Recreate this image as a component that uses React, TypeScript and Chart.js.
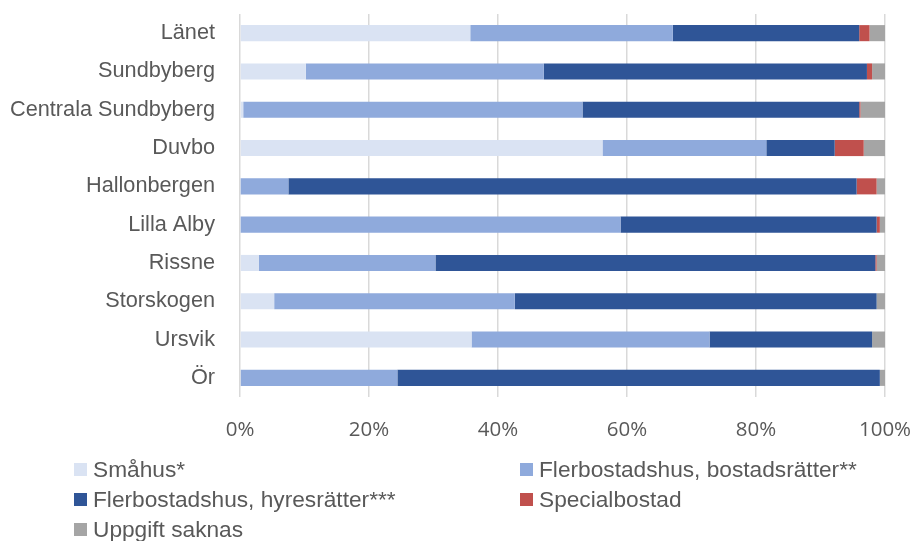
import React, { useEffect, useRef } from "react";
import { Chart, registerables } from "chart.js";

Chart.register(...registerables);

const categories = [
  "Länet",
  "Sundbyberg",
  "Centrala Sundbyberg",
  "Duvbo",
  "Hallonbergen",
  "Lilla Alby",
  "Rissne",
  "Storskogen",
  "Ursvik",
  "Ör",
];

const smahus = [35.7, 10.2, 0.5, 56.2, 0.1, 0.1, 2.9, 5.3, 35.9, 0];
const bostadsratter = [31.4, 36.9, 52.6, 25.4, 7.4, 58.9, 27.4, 37.3, 36.9, 24.4];
const hyresratter = [28.9, 50.1, 42.9, 10.6, 88.1, 39.7, 68.2, 56.1, 25.2, 74.8];
const specialbostad = [1.6, 0.8, 0.2, 4.5, 3.1, 0.5, 0.2, 0, 0, 0];
const uppgiftSaknas = [2.4, 2.0, 3.8, 3.3, 1.3, 0.8, 1.3, 1.3, 2.0, 0.8];

const seriesNames = [
  "Småhus*",
  "Flerbostadshus, bostadsrätter**",
  "Flerbostadshus, hyresrätter***",
  "Specialbostad",
  "Uppgift saknas",
];
const seriesColors = ["#dae3f3", "#8faadc", "#2f5597", "#c0504d", "#a5a5a5"];

const xTicks = [0, 20, 40, 60, 80, 100];

function zeroPad(scale: any) {
  scale.paddingTop = 0;
  scale.paddingBottom = 0;
  scale.paddingLeft = 0;
  scale.paddingRight = 0;
}

export default function App() {
  const ref = useRef<HTMLCanvasElement | null>(null);

  useEffect(() => {
    if (!ref.current) return;
    const values = [smahus, bostadsratter, hyresratter, specialbostad, uppgiftSaknas];
    const chart = new Chart(ref.current, {
      type: "bar",
      data: {
        labels: categories,
        datasets: values.map((v, i) => ({
          label: seriesNames[i],
          data: v,
          backgroundColor: seriesColors[i],
          borderWidth: 0,
          barPercentage: 0.42,
          categoryPercentage: 1,
        })),
      },
      options: {
        indexAxis: "y",
        animation: false,
        responsive: false,
        maintainAspectRatio: false,
        layout: { padding: { top: 14, right: 29, left: 0, bottom: 0 } },
        plugins: {
          legend: { display: false },
          tooltip: { enabled: false },
        },
        scales: {
          x: {
            stacked: true,
            min: 0,
            max: 100,
            afterFit: (scale: any) => {
              scale.height = 144;
              zeroPad(scale);
            },
            afterBuildTicks: (scale: any) => {
              scale.ticks = xTicks.map((v) => ({ value: v }));
            },
            grid: {
              color: "#d9d9d9",
              lineWidth: 1.5,
              drawTicks: false,
            },
            border: { display: false },
            ticks: {
              padding: 21,
              color: "#595959",
              font: { family: "'Open Sans'", size: 20.5 },
              maxRotation: 0,
              callback: (v: any) => v + "%",
            },
          },
          y: {
            stacked: true,
            afterFit: (scale: any) => {
              scale.width = 240;
              zeroPad(scale);
            },
            grid: { display: false, drawTicks: false },
            border: { display: false },
            ticks: {
              padding: 25,
              color: "#595959",
              font: { family: "'Liberation Sans'", size: 21.7 },
            },
          },
        },
      },
    });
    return () => chart.destroy();
  }, []);

  const legendPos = [
    { x: 74, y: 469 },
    { x: 520, y: 469 },
    { x: 74, y: 499.5 },
    { x: 520, y: 499.5 },
    { x: 74, y: 529.5 },
  ];

  return (
    <div
      style={{
        position: "fixed",
        left: 0,
        top: 0,
        width: 914,
        height: 541,
        background: "#fff",
        overflow: "hidden",
      }}
    >
      <canvas ref={ref} width={914} height={541} style={{ display: "block" }} />
      {seriesNames.map((name, i) => (
        <div
          key={name}
          style={{
            position: "absolute",
            left: legendPos[i].x,
            top: legendPos[i].y - 15,
            height: 30,
            display: "flex",
            alignItems: "center",
            whiteSpace: "nowrap",
            fontFamily: "'Liberation Sans', Arial, sans-serif",
            fontSize: 22.7,
            color: "#595959",
          }}
        >
          <span
            style={{
              display: "inline-block",
              width: 13,
              height: 13,
              background: seriesColors[i],
              marginRight: 6,
            }}
          />
          <span>{name}</span>
        </div>
      ))}
    </div>
  );
}
